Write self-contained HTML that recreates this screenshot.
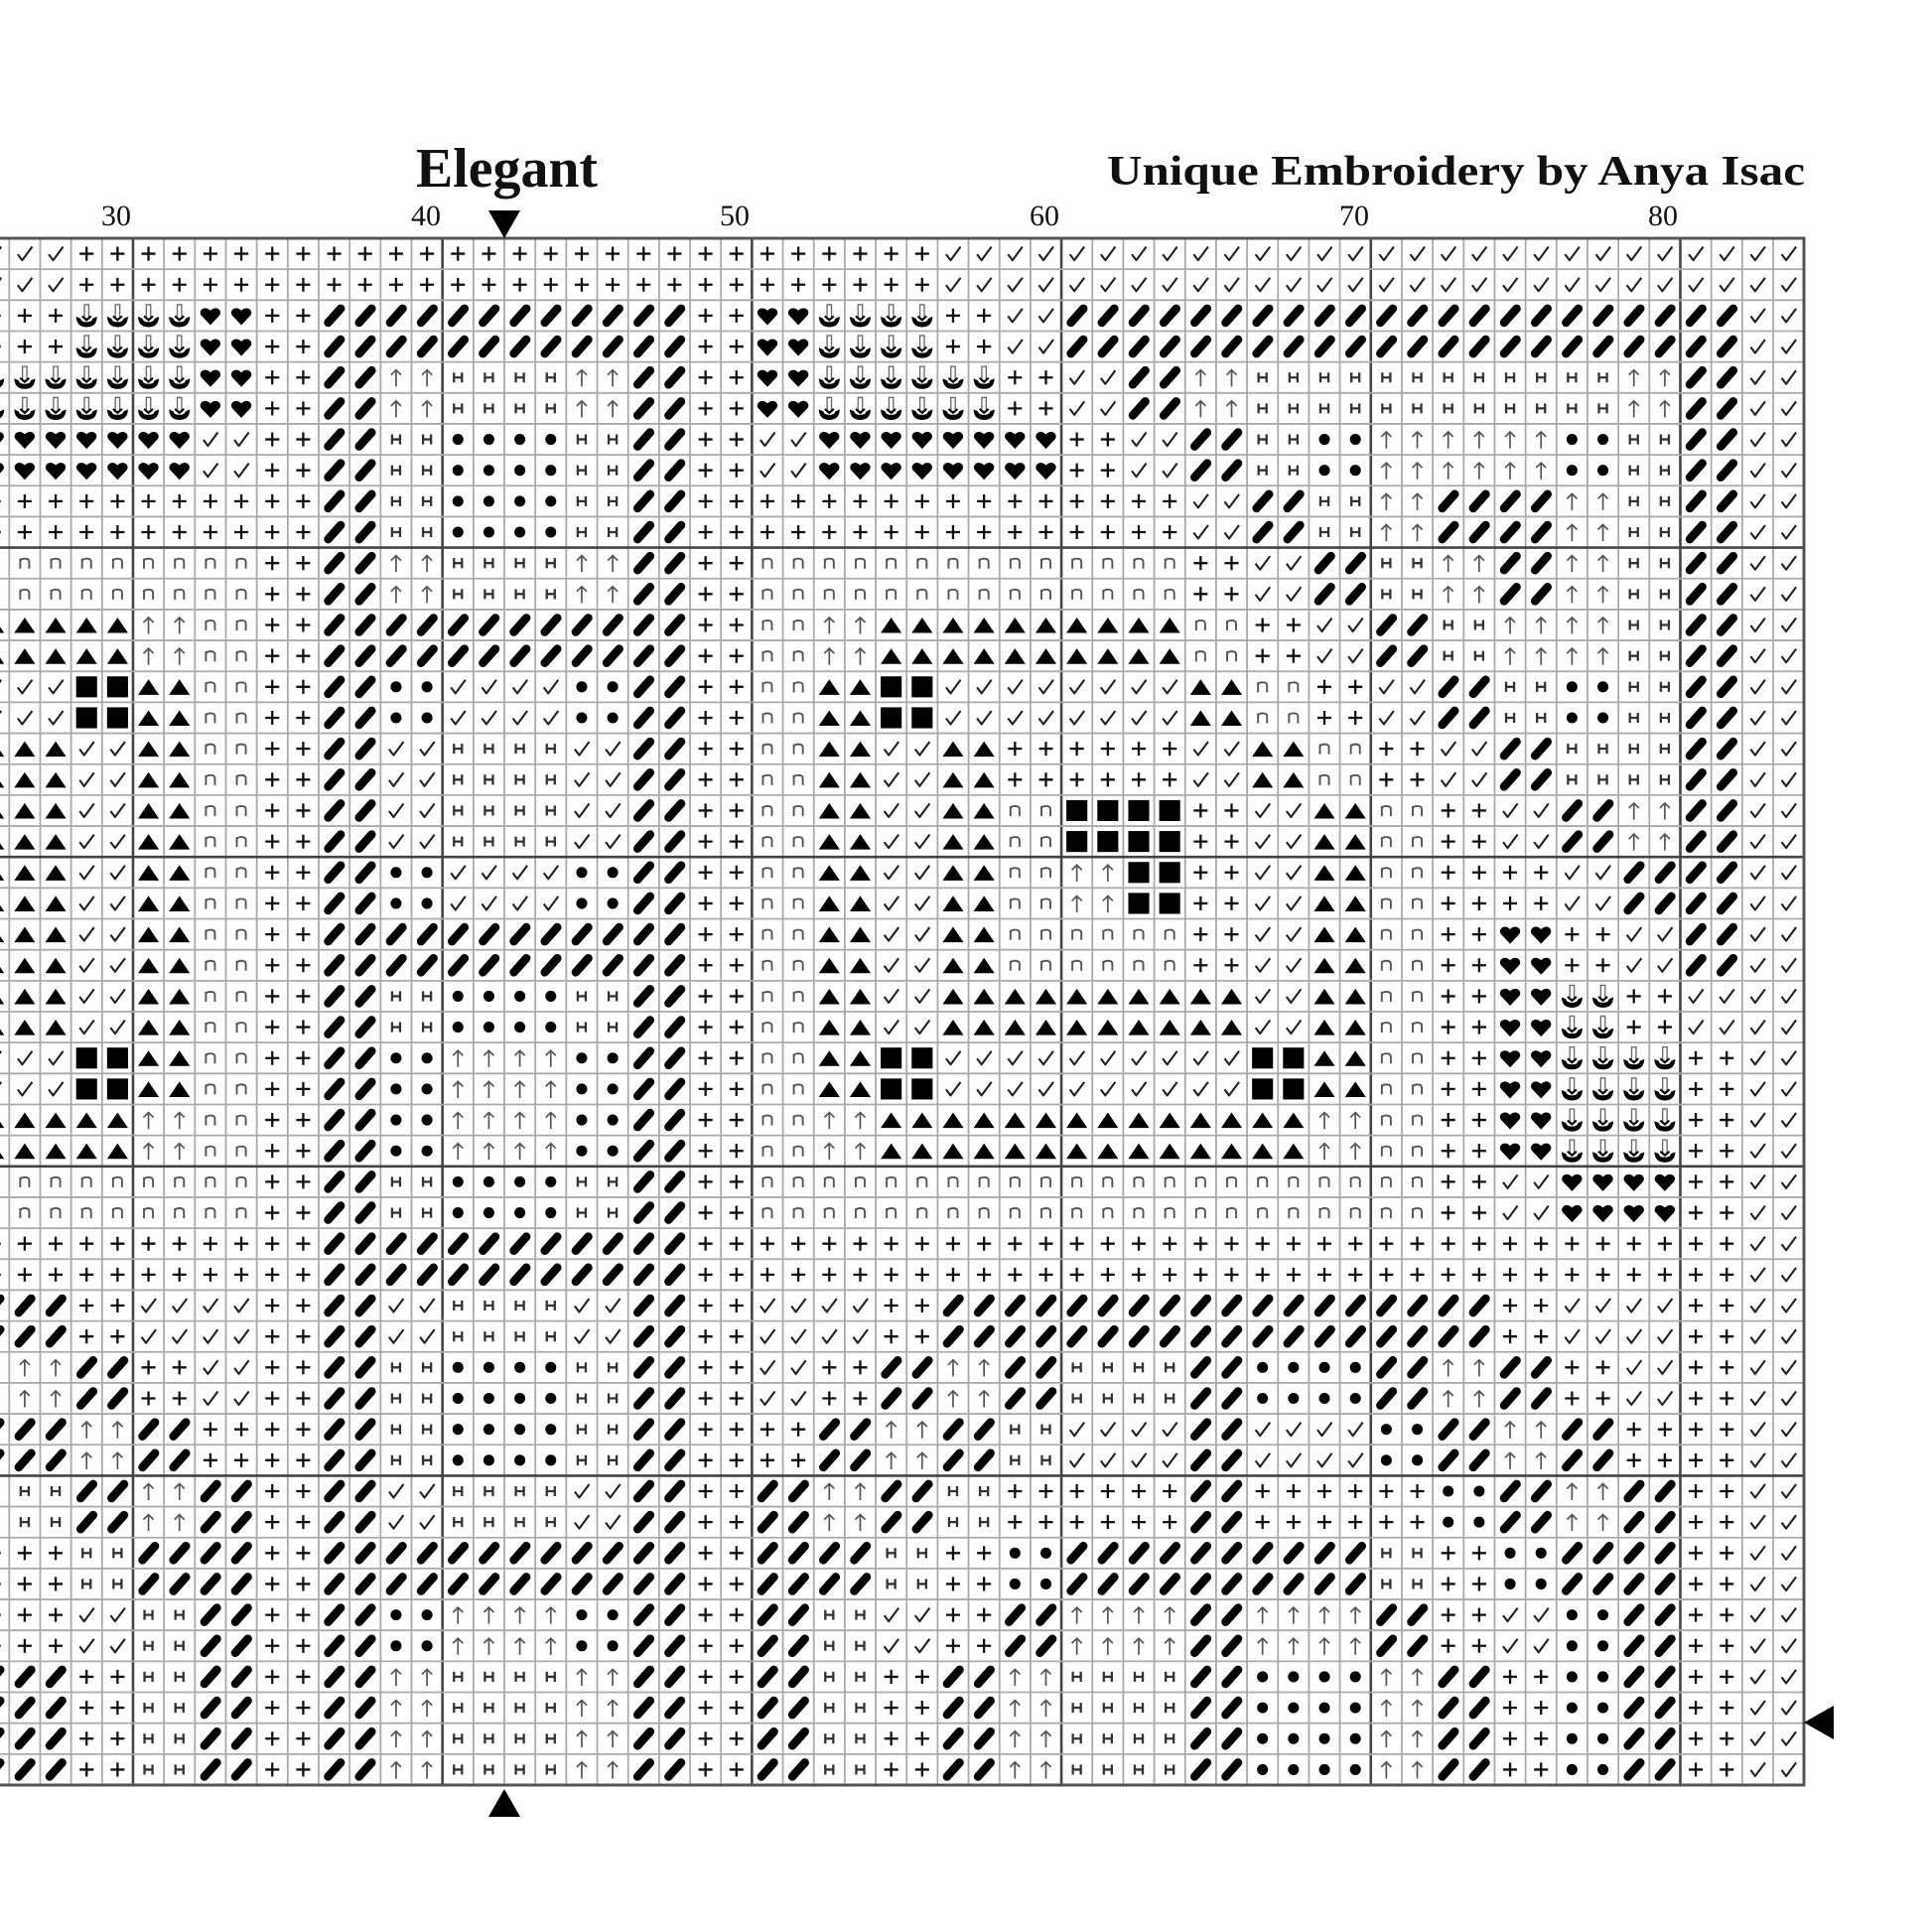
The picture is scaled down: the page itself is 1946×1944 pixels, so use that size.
<!DOCTYPE html>
<html><head><meta charset="utf-8"><style>
html,body{margin:0;padding:0;background:#fff;}
body{width:1946px;height:1944px;overflow:hidden;}
svg{display:block;}
</style></head><body>
<svg id="chart" width="1946" height="1944" viewBox="0 0 1946 1944" xmlns="http://www.w3.org/2000/svg" xmlns:xlink="http://www.w3.org/1999/xlink">
<defs>
<symbol id="gp" viewBox="0 0 31 31"><path d="M15.5 8.5v14M8.5 15.5h14" stroke="#111" stroke-width="2.3" fill="none"/></symbol>
<symbol id="gv" viewBox="0 0 31 31"><path d="M8.5 16 L13 22 L23 8.5" stroke="#222" stroke-width="2.1" fill="none" stroke-linejoin="round"/></symbol>
<symbol id="gs" viewBox="0 0 31 31"><line x1="9.5" y1="22.5" x2="22" y2="8.5" stroke="#000" stroke-width="8.5" stroke-linecap="round"/></symbol>
<symbol id="gh" viewBox="0 0 31 31"><path d="M15.5 25 L6.5 15.5 C2.5 10.5 10 4.5 15.5 10.5 C21 4.5 28.5 10.5 24.5 15.5 Z" fill="#000"/></symbol>
<symbol id="ga" viewBox="0 0 31 31"><rect x="13.3" y="4.5" width="4.4" height="14" fill="none" stroke="#666" stroke-width="1.3"/><path d="M5 16.5 Q5.5 27 15.5 27 Q25.5 27 26 16.5 L21.5 18.5 Q21 22 15.5 22 Q10 22 9.5 18.5 Z" fill="#000"/><path d="M11 16 L15.5 20 L20 16" fill="none" stroke="#000" stroke-width="2"/></symbol>
<symbol id="gu" viewBox="0 0 31 31"><path d="M15.5 24.5V8 M10.5 13 L15.5 8 L20.5 13" stroke="#555" stroke-width="1.7" fill="none"/></symbol>
<symbol id="gH" viewBox="0 0 31 31"><path d="M11.5 10.5v10M19.5 10.5v10M11.5 15.5h8" stroke="#333" stroke-width="2.3" fill="none"/></symbol>
<symbol id="go" viewBox="0 0 31 31"><circle cx="15.5" cy="15.5" r="5.5" fill="#000"/></symbol>
<symbol id="gn" viewBox="0 0 31 31"><path d="M11 21V11 M11 13.5 Q11.5 11 15.5 11 Q20 11 20 14 V21" stroke="#555" stroke-width="1.9" fill="none"/></symbol>
<symbol id="gt" viewBox="0 0 31 31"><polygon points="5,23.5 26,23.5 15.5,8" fill="#000"/></symbol>
<symbol id="gq" viewBox="0 0 31 31"><rect x="5" y="5" width="21" height="21" fill="#000"/></symbol>
</defs>
<g id="cells"></g>
<g id="lines"></g>
<text x="419" y="188" font-family="Liberation Serif, serif" font-weight="bold" font-size="56" textLength="183" lengthAdjust="spacingAndGlyphs" fill="#111">Elegant</text>
<text x="1115" y="186" font-family="Liberation Serif, serif" font-weight="bold" font-size="42" textLength="703" lengthAdjust="spacingAndGlyphs" fill="#111">Unique Embroidery by Anya Isac</text>
<g font-family="Liberation Serif, serif" font-size="30" fill="#111" text-anchor="end">
<text x="132" y="227">30</text><text x="444" y="227">40</text><text x="755" y="227">50</text>
<text x="1067" y="227">60</text><text x="1379" y="227">70</text><text x="1690" y="227">80</text>
</g>
<polygon points="492,212 524,212 508,240" fill="#000"/>
<polygon points="492,1830 524,1830 508,1802" fill="#000"/>
<polygon points="1847,1718 1847,1752 1817,1735" fill="#000"/>
</svg>
<script>
(function(){
var R=[];
function add(s,n){for(var i=0;i<n;i++)R.push(s);}
add("vv++"+"++++++++++"+"++++++++++"+"++++++vvvv"+"vvvvvvvvvv"+"vvvvvvvvvv"+"vvvv",2);
add("++AA"+"AAhh++////"+"////////++"+"hhAAAA++vv"+"//////////"+"//////////"+"//vv",2);
add("AAAA"+"AAhh++//^^"+"HHHH^^//++"+"hhAAAAAA++"+"vv//^^HHHH"+"HHHHHHHH^^"+"//vv",2);
add("hhhh"+"hhvv++//HH"+"ooooHH//++"+"vvhhhhhhhh"+"++vv//HHoo"+"^^^^^^ooHH"+"//vv",2);
add("++++"+"++++++//HH"+"ooooHH//++"+"++++++++++"+"++++vv//HH"+"^^////^^HH"+"//vv",2);
add("nnnn"+"nnnn++//^^"+"HHHH^^//++"+"nnnnnnnnnn"+"nnnn++vv//"+"HH^^//^^HH"+"//vv",2);
add("TTTT"+"^^nn++////"+"////////++"+"nn^^TTTTTT"+"TTTTnn++vv"+"//HH^^^^HH"+"//vv",2);
add("vvSS"+"TTnn++//oo"+"vvvvoo//++"+"nnTTSSvvvv"+"vvvvTTnn++"+"vv//HHooHH"+"//vv",2);
add("TTvv"+"TTnn++//vv"+"HHHHvv//++"+"nnTTvvTT++"+"++++vvTTnn"+"++vv//HHHH"+"//vv",2);
add("TTvv"+"TTnn++//vv"+"HHHHvv//++"+"nnTTvvTTnn"+"SSSS++vvTT"+"nn++vv//^^"+"//vv",2);
add("TTvv"+"TTnn++//oo"+"vvvvoo//++"+"nnTTvvTTnn"+"^^SS++vvTT"+"nn++++vv//"+"//vv",2);
add("TTvv"+"TTnn++////"+"////////++"+"nnTTvvTTnn"+"nnnn++vvTT"+"nn++hh++vv"+"//vv",2);
add("TTvv"+"TTnn++//HH"+"ooooHH//++"+"nnTTvvTTTT"+"TTTTTTvvTT"+"nn++hhAA++"+"vvvv",2);
add("vvSS"+"TTnn++//oo"+"^^^^oo//++"+"nnTTSSvvvv"+"vvvvvvSSTT"+"nn++hhAAAA"+"++vv",2);
add("TTTT"+"^^nn++//oo"+"^^^^oo//++"+"nn^^TTTTTT"+"TTTTTTTT^^"+"nn++hhAAAA"+"++vv",2);
add("nnnn"+"nnnn++//HH"+"ooooHH//++"+"nnnnnnnnnn"+"nnnnnnnnnn"+"nn++vvhhhh"+"++vv",2);
add("++++"+"++++++////"+"////////++"+"++++++++++"+"++++++++++"+"++++++++++"+"++vv",2);
add("//++"+"vvvv++//vv"+"HHHHvv//++"+"vvvv++////"+"//////////"+"////++vvvv"+"++vv",2);
add("^^//"+"++vv++//HH"+"ooooHH//++"+"vv++//^^//"+"HHHH//oooo"+"//^^//++vv"+"++vv",2);
add("//^^"+"//++++//HH"+"ooooHH//++"+"++//^^//HH"+"vvvv//vvvv"+"oo//^^//++"+"++vv",2);
add("HH//"+"^^//++//vv"+"HHHHvv//++"+"//^^//HH++"+"++++//++++"+"++oo//^^//"+"++vv",2);
add("++HH"+"////++////"+"////////++"+"////HH++oo"+"//////////"+"HH++oo////"+"++vv",2);
add("++vv"+"HH//++//oo"+"^^^^oo//++"+"//HHvv++//"+"^^^^//^^^^"+"//++vvoo//"+"++vv",2);
add("//++"+"HH//++//^^"+"HHHH^^//++"+"//HH++//^^"+"HHHH//oooo"+"^^//++oo//"+"++vv",4);
var map={"+":"gp","v":"gv","/":"gs","h":"gh","A":"ga","^":"gu","H":"gH","o":"go","n":"gn","T":"gt","S":"gq"};
var X0=9.3,CW=31.17,Y0=240,CH=31.16,XR=1817,YB=1798;
var out=[];
for(var r=0;r<R.length;r++){
  var row=R[r][0]+R[r];
  for(var i=0;i<row.length;i++){
    var c=26+i;var x=X0+(c-27)*CW;var y=Y0+r*CH;
    var id=map[row[i]];
    if(id)out.push('<use href="#'+id+'" xlink:href="#'+id+'" x="'+x.toFixed(2)+'" y="'+y.toFixed(2)+'" width="'+CW.toFixed(2)+'" height="'+CH.toFixed(2)+'"/>');
  }
}
document.getElementById('cells').innerHTML=out.join('');
var L=[];
for(var k=-1;k<58;k++){
  var x=X0+k*CW;var c=27+k;
  var major=((c-1)%10===0);
  L.push('<line x1="'+x.toFixed(2)+'" y1="'+Y0+'" x2="'+x.toFixed(2)+'" y2="'+YB+'" stroke="'+(major?'#444':'#aaa')+'" stroke-width="'+(major?2.6:1.8)+'"/>');
}
for(var r=1;r<50;r++){
  var y=Y0+r*CH;var major=(r%10===0);
  L.push('<line x1="0" y1="'+y.toFixed(2)+'" x2="'+XR+'" y2="'+y.toFixed(2)+'" stroke="'+(major?'#444':'#aaa')+'" stroke-width="'+(major?2.6:1.8)+'"/>');
}
L.push('<path d="M0 '+Y0+' H'+XR+' V'+YB+' H0" fill="none" stroke="#555" stroke-width="3"/>');
document.getElementById('lines').innerHTML=L.join('');
})();
</script>
</body></html>
